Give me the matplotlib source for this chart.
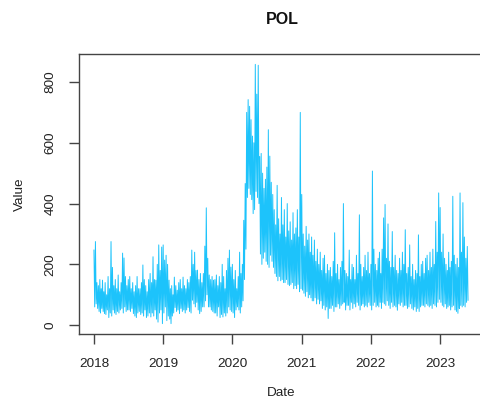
import numpy as np
import pandas as pd
import matplotlib
matplotlib.use("Agg")
import matplotlib.pyplot as plt
import matplotlib.dates as mdates

plt.rcParams['font.family'] = ['Liberation Sans', 'DejaVu Sans']

# Weekly highs / lows (4 weeks per month)
hi_2018 = [247, 275, 140, 130, 150, 120, 148, 110, 140, 100, 160, 120, 275, 190, 130, 150,
           120, 165, 110, 140, 237, 221, 160, 130, 150, 160, 120, 140, 110, 130, 160, 120,
           120, 140, 198, 150, 130, 110, 150, 170, 140, 225, 150, 148, 200, 264, 180, 257]
lo_2018 = [60, 70, 55, 45, 40, 55, 45, 38, 35, 50, 25, 40, 30, 50, 40, 35,
           45, 40, 50, 55, 40, 60, 45, 50, 50, 45, 55, 38, 30, 25, 40, 45,
           35, 40, 30, 50, 25, 30, 40, 27, 40, 30, 50, 20, 10, 40, 50, 5]
hi_2019 = [264, 214, 230, 200, 148, 120, 130, 100, 158, 130, 115, 140, 150, 120, 158, 130,
           120, 150, 140, 160, 247, 200, 240, 180, 181, 150, 170, 140, 170, 260, 386, 220,
           165, 150, 160, 148, 150, 165, 130, 160, 140, 200, 160, 120, 180, 220, 247, 191]
lo_2019 = [40, 60, 15, 30, 20, 5, 30, 40, 58, 45, 50, 38, 55, 45, 50, 40,
           50, 58, 45, 40, 82, 70, 60, 75, 50, 38, 45, 60, 60, 80, 100, 60,
           60, 50, 45, 40, 40, 30, 60, 25, 35, 27, 40, 30, 40, 60, 50, 45]
hi_2020 = [200, 150, 180, 120, 160, 240, 170, 200, 345, 466, 700, 742, 720, 676, 622, 600,
           858, 760, 855, 555, 565, 500, 450, 480, 520, 643, 556, 470, 430, 380, 330, 460,
           350, 300, 420, 330, 380, 290, 400, 310, 340, 280, 370, 300, 320, 380, 290, 700]
lo_2020 = [40, 25, 50, 60, 50, 40, 60, 80, 150, 250, 420, 450, 430, 413, 367, 380,
           440, 420, 400, 234, 200, 220, 240, 210, 200, 190, 230, 210, 190, 170, 160, 146,
           160, 146, 150, 140, 140, 150, 134, 130, 134, 140, 120, 130, 120, 134, 110, 120]
hi_2021 = [430, 300, 260, 325, 280, 300, 240, 290, 230, 280, 210, 250, 200, 240, 180, 220,
           230, 170, 200, 180, 190, 160, 210, 304, 170, 200, 150, 190, 210, 400, 180, 170,
           160, 247, 150, 200, 190, 150, 230, 170, 363, 200, 160, 190, 230, 180, 240, 170]
lo_2021 = [115, 105, 95, 110, 90, 100, 90, 80, 80, 90, 70, 85, 70, 80, 55, 65,
           50, 60, 22, 55, 55, 65, 45, 60, 60, 70, 55, 65, 70, 75, 50, 65,
           65, 50, 75, 55, 70, 60, 75, 65, 50, 65, 70, 60, 65, 60, 75, 65]
hi_2022 = [200, 507, 250, 200, 180, 220, 240, 170, 250, 353, 397, 220, 333, 210, 190, 308,
           190, 230, 180, 170, 220, 180, 240, 200, 314, 170, 190, 264, 160, 200, 150, 180,
           170, 297, 160, 200, 210, 170, 220, 230, 180, 240, 190, 250, 200, 341, 240, 435]
lo_2022 = [50, 65, 75, 60, 65, 60, 75, 55, 75, 70, 65, 80, 65, 55, 75, 60,
           65, 60, 49, 70, 65, 75, 60, 65, 65, 55, 60, 70, 55, 50, 60, 45,
           55, 45, 60, 65, 65, 60, 70, 65, 60, 65, 55, 70, 65, 60, 75, 85]
hi_2023 = [387, 240, 300, 220, 200, 180, 240, 190, 210, 424, 230, 200, 220, 190, 435, 240,
           403, 290, 220, 259]
lo_2023 = [75, 65, 60, 70, 55, 60, 65, 50, 60, 65, 50, 45, 39, 55, 65, 60,
           65, 60, 75, 82]

hi_all = hi_2018 + hi_2019 + hi_2020 + hi_2021 + hi_2022 + hi_2023
lo_all = lo_2018 + lo_2019 + lo_2020 + lo_2021 + lo_2022 + lo_2023
months = pd.date_range('2018-01-01', '2023-05-01', freq='MS')

dates, vals = [], []
for i, ms in enumerate(months):
    L = ms.days_in_month
    for k in range(4):
        dates.append(ms + pd.Timedelta(days=L * k / 4.0))
        vals.append(hi_all[i * 4 + k])
        dates.append(ms + pd.Timedelta(days=L * (k + 0.5) / 4.0))
        vals.append(lo_all[i * 4 + k])
dates = pd.to_datetime(dates)
vals = np.array(vals, dtype=float)

W, H = 481, 405
fig = plt.figure(figsize=(W / 100, H / 100), dpi=100)
ax = fig.add_axes([79 / W, 71 / H, 404 / W, 280 / H])
ax.plot(dates, vals, color='#1DC3FB', lw=0.7)

xn = mdates.date2num(dates)
xr = xn.max() - xn.min()
ax.set_xlim(xn.min() - 0.04 * xr, xn.max() + 0.04 * xr)
yr = vals.max() - vals.min()
ax.set_ylim(vals.min() - 0.04 * yr, vals.max() + 0.04 * yr)

years = [2018, 2019, 2020, 2021, 2022, 2023]
ax.set_xticks([mdates.date2num(pd.Timestamp(f'{y}-01-01')) for y in years])
ax.set_xticklabels([str(y) for y in years])
yticks = [0, 200, 400, 600, 800]
ax.set_yticks(yticks)
ax.set_yticklabels([str(v) for v in yticks], rotation=90, va='center')

for s in ax.spines.values():
    s.set_color('#444444')
    s.set_linewidth(1.0)
ax.tick_params(axis='both', length=7, width=1, color='#444444', labelsize=9.7,
               labelcolor='#222222')
ax.tick_params(axis='x', pad=10)
ax.tick_params(axis='y', pad=9)

fig.text(282 / W, 1 - 20 / H, 'POL', ha='center', va='center', fontsize=11.5,
         fontweight='bold', color='#111111')
fig.text(281 / W, 1 - 393 / H, 'Date', ha='center', va='center', fontsize=9.7,
         color='#222222')
fig.text(20 / W, 1 - 194 / H, 'Value', ha='center', va='center', fontsize=9.7,
         rotation=90, color='#222222')

fig.savefig('out.png', dpi=100)
